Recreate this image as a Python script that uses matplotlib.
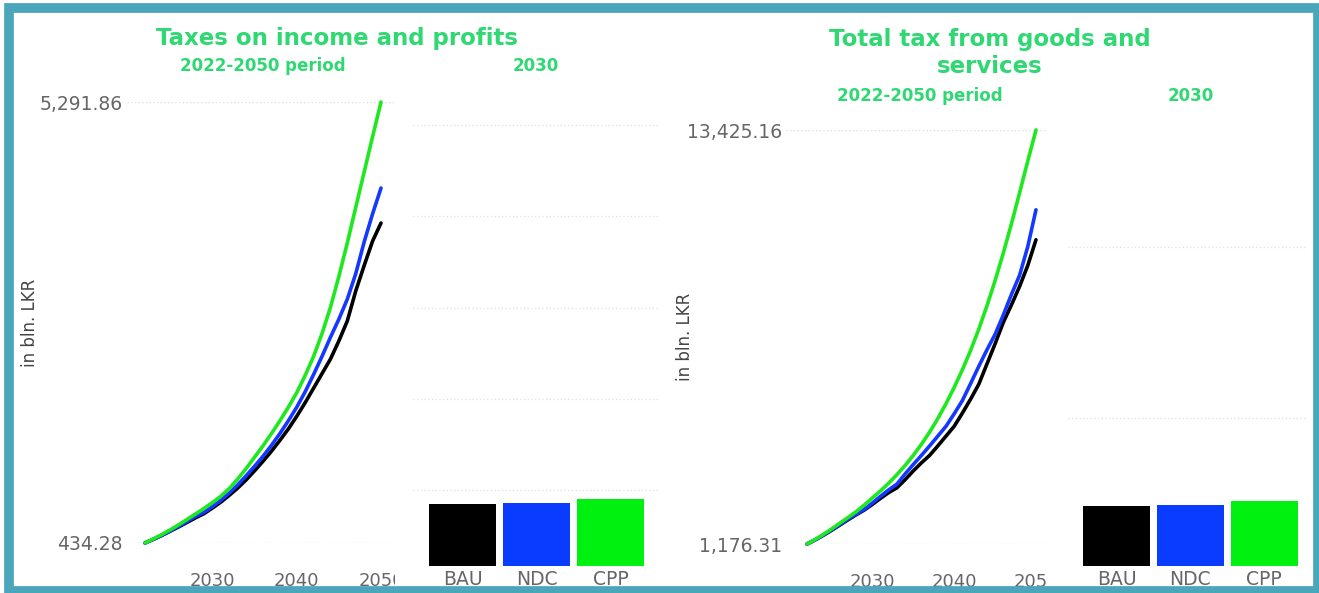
import numpy as np
import matplotlib
matplotlib.use("Agg")
import matplotlib.pyplot as plt
from matplotlib.patches import Rectangle
from matplotlib.transforms import Bbox, TransformedBbox
from matplotlib.ticker import FuncFormatter

# Tax revenue per scenario, bln. LKR
years = list(range(2022, 2051))
scenarios = ["BAU", "NDC", "CPP"]

income_bau = [434.28, 475, 518, 565, 612, 662, 712, 758, 820, 885, 960, 1040, 1130, 1230, 1335,
              1445, 1565, 1690, 1830, 1980, 2140, 2300, 2460, 2660, 2880, 3210, 3490, 3760, 3959]
income_ndc = [434.28, 476, 520, 568, 618, 672, 728, 772, 835, 905, 985, 1075, 1175, 1280, 1390,
              1510, 1640, 1780, 1930, 2100, 2290, 2490, 2700, 2900, 3120, 3400, 3750, 4060, 4344]
income_cpp = [434.28, 480, 528, 580, 635, 695, 755, 815, 880, 950, 1035, 1140, 1255, 1380, 1505,
              1640, 1780, 1930, 2090, 2280, 2490, 2740, 3030, 3370, 3740, 4130, 4520, 4910, 5291.86]

goods_bau = [1176.31, 1298, 1435, 1580, 1735, 1890, 2040, 2180, 2350, 2530, 2700, 2840, 3080, 3340, 3580,
             3800, 4080, 4370, 4660, 5050, 5460, 5900, 6500, 7100, 7730, 8250, 8800, 9420, 10178]
goods_ndc = [1176.31, 1300, 1440, 1590, 1750, 1910, 2060, 2200, 2390, 2590, 2780, 2950, 3250, 3530, 3800,
             4080, 4370, 4660, 5030, 5420, 5920, 6430, 6920, 7380, 7950, 8560, 9130, 9980, 11064]
goods_cpp = [1176.31, 1310, 1460, 1620, 1790, 1960, 2130, 2330, 2540, 2750, 2980, 3230, 3500, 3800, 4130,
             4490, 4890, 5330, 5810, 6330, 6900, 7530, 8220, 8970, 9780, 10650, 11570, 12510, 13425.16]

bar_year = 2030
xtick_years = [2030, 2040, 2050]

line_colors = {"BAU": "#000000", "NDC": "#1438ff", "CPP": "#1ee81e"}
bar_colors = {"BAU": "#000000", "NDC": "#0a3cff", "CPP": "#00f010"}
title_green = "#2fd873"
label_gray = "#666666"

W, H = 1319, 593
fig = plt.figure(figsize=(W / 100, H / 100), dpi=100)
fig.patch.set_facecolor("white")


def px_axes(x0, y0, x1, y1):
    return fig.add_axes([x0 / W, 1 - y1 / H, (x1 - x0) / W, (y1 - y0) / H])


def line_panel(rect, xlim, series, ylab_x):
    ax = px_axes(*rect)
    for name, vals in zip(scenarios, series):
        ax.plot(years, vals, color=line_colors[name], lw=2.6, clip_on=False,
                solid_capstyle="round")
    lo, hi = series[0][0], max(s[-1] for s in series)
    ax.set_xlim(*xlim)
    ax.set_ylim(lo, hi)
    ax.set_yticks([lo, hi])
    ax.yaxis.set_major_formatter(FuncFormatter(lambda v, p: f"{v:,.2f}"))
    ax.set_xticks(xtick_years)
    ax.tick_params(axis="both", length=0, colors=label_gray)
    ax.tick_params(axis="x", labelsize=13, pad=21)
    ax.tick_params(axis="y", labelsize=13.5, pad=3)
    ax.grid(axis="y", color="#dddddd", ls=":", lw=1)
    for s in ax.spines.values():
        s.set_visible(False)
    # cut tick labels at the plot's right edge
    clip = TransformedBbox(Bbox([[0, -1], [1, 1]]), ax.transAxes)
    for lbl in ax.get_xticklabels():
        lbl.set_clip_box(clip)
        lbl.set_clip_on(True)
    fig.text(ylab_x / W, 1 - (rect[1] + rect[3]) / 2 / H, "in bln. LKR", rotation=90,
             ha="center", va="center", fontsize=12, color="#444444")
    return ax


def bar_panel(rect, xlim, ylim, grid, series):
    ax = px_axes(*rect)
    idx = years.index(bar_year)
    vals = [s[idx] for s in series]
    ax.bar(range(3), vals, width=0.9, color=[bar_colors[n] for n in scenarios], zorder=3)
    ax.set_xlim(*xlim)
    ax.set_ylim(*ylim)
    ax.set_yticks(grid)
    ax.set_yticklabels([])
    ax.set_xticks(range(3))
    ax.set_xticklabels(scenarios)
    ax.tick_params(axis="both", length=0, colors=label_gray)
    ax.tick_params(axis="x", labelsize=13.5, pad=3)
    ax.grid(axis="y", color="#e4e4e4", ls=":", lw=1)
    for s in ax.spines.values():
        s.set_visible(False)
    return ax


# left: taxes on income and profits
income = [income_bau, income_ndc, income_cpp]
line_panel((127, 102, 395, 543), (2019.86, 2051.66), income, 30)
bar_panel((413, 110, 660, 566), (-0.67, 2.67), (0, 6000), [1000, 2200, 3400, 4600, 5800], income)
fig.text(337 / W, 1 - 39 / H, "Taxes on income and profits", ha="center", va="center",
         fontsize=16.5, fontweight="bold", color=title_green)
fig.text(263 / W, 1 - 66 / H, "2022-2050 period", ha="center", va="center",
         fontsize=12, fontweight="bold", color=title_green)
fig.text(536 / W, 1 - 66 / H, "2030", ha="center", va="center",
         fontsize=12, fontweight="bold", color=title_green)

# right: total tax from goods and services
goods = [goods_bau, goods_ndc, goods_cpp]
line_panel((786, 130, 1048, 544), (2019.43, 2051.47), goods, 685)
bar_panel((1068, 130, 1308, 566), (-0.655, 2.59), (0, 17100), [5800, 12500], goods)
fig.text(990 / W, 1 - 53 / H, "Total tax from goods and\nservices", ha="center", va="center",
         fontsize=16.5, fontweight="bold", color=title_green, linespacing=1.25)
fig.text(920 / W, 1 - 96 / H, "2022-2050 period", ha="center", va="center",
         fontsize=12, fontweight="bold", color=title_green)
fig.text(1191 / W, 1 - 96 / H, "2030", ha="center", va="center",
         fontsize=12, fontweight="bold", color=title_green)

# teal frame
fig.patches.append(Rectangle((8.5 / W, 1 - 591 / H), (1318 - 8.5) / W, (591 - 8) / H,
                             transform=fig.transFigure, fill=False, ec="#4aa6bb", lw=7))

fig.savefig("out.png", dpi=100, facecolor="white")
